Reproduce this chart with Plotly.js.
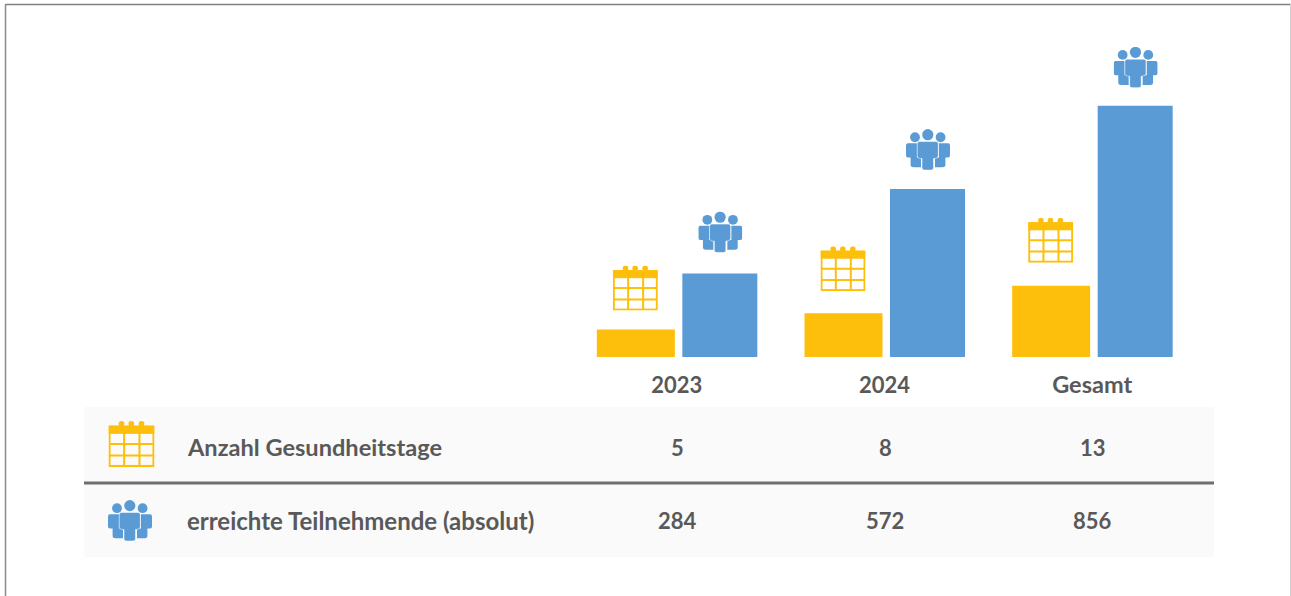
<!DOCTYPE html>
<html><head><meta charset="utf-8">
<script src="https://cdn.plot.ly/plotly-3.0.1.min.js"></script>
<style>html,body{margin:0;padding:0;background:#fff}#c{width:1291px;height:596px}</style>
</head><body><div id="c"></div>
<script>
const categories = ['2023', '2024', 'Gesamt'];
const gesundheitstage = [5, 8, 13];
const teilnehmende = [284, 572, 856];
const rowLabels = ['Anzahl Gesundheitstage', 'erreichte Teilnehmende (absolut)'];

const W = 1291, H = 596;
const M = {l: 573, r: 95, t: 5, b: 239};
const plotW = W - M.l - M.r, plotH = H - M.t - M.b;
const YMAX = 1199, Y2MAX = 64.2;
const YELLOW = '#FDBF0B', BLUE = '#5B9BD5', TEXT = '#595959', FONT = 'Lato, Carlito, sans-serif';
const px = x => (x - M.l) / plotW;
const py = y => 1 - (y - M.t) / plotH;
const dx = d => d * 3 / plotW;
const dy = d => d * YMAX / plotH;
const dy2 = d => d * Y2MAX / plotH;

const calendarSvg = `<svg xmlns="http://www.w3.org/2000/svg" width="135" height="135" viewBox="0 0 45 45"><g fill="${YELLOW}"><circle cx="12.7" cy="2.8" r="2.8"/><circle cx="22.3" cy="2.8" r="2.8"/><circle cx="32.3" cy="2.8" r="2.8"/><rect x="0" y="4.6" width="45" height="8"/></g><g fill="none" stroke="${YELLOW}" stroke-width="2"><rect x="1" y="5.5" width="43" height="38.5"/><path d="M15.3 12V44M30.3 12V44M1 22.5H44M1 33.8H44"/></g></svg>`;
const peopleSvg = `<svg xmlns="http://www.w3.org/2000/svg" width="132" height="123" viewBox="0 0 44 41"><g fill="${BLUE}"><circle cx="21.8" cy="5.6" r="5.6"/><circle cx="9" cy="8.2" r="4.9"/><circle cx="34.6" cy="8.2" r="4.9"/><path d="M2 14.2H11V28.5H15V38.2H7.5Q4.6 38.2 4.6 35.7V28.5H2Q0 28.5 0 26.5V16.2Q0 14.2 2 14.2Z"/><path d="M42 14.2H33V28.5H29V38.2H36.5Q39.4 38.2 39.4 35.7V28.5H42Q44 28.5 44 26.5V16.2Q44 14.2 42 14.2Z"/><path d="M13.5 12.5H30Q32.3 12.5 32.3 14.8V26.5Q32.3 29.5 28.3 29.5H27.5V38.5Q27.5 41 25 41H18.5Q16 41 16 38.5V29.5H15.3Q11.2 29.5 11.2 26.5V14.8Q11.2 12.5 13.5 12.5Z" stroke="#fff" stroke-width="0.5"/></g></svg>`;
const uri = s => 'data:image/svg+xml;base64,' + btoa(s);

const calGapPx = [19, 22, 23], peopleGapPx = [21, 19, 18];
const images = [];
categories.forEach((c, i) => {
  images.push({source: uri(calendarSvg), xref: 'x', yref: 'y2', x: i + dx(-41.5), y: gesundheitstage[i] + dy2(calGapPx[i]),
    sizex: dx(45), sizey: dy2(45), xanchor: 'center', yanchor: 'bottom', sizing: 'contain', layer: 'above'});
  images.push({source: uri(peopleSvg), xref: 'x', yref: 'y', x: i + dx(43.5), y: teilnehmende[i] + dy(peopleGapPx[i]),
    sizex: dx(44), sizey: dy(41), xanchor: 'center', yanchor: 'bottom', sizing: 'contain', layer: 'above'});
});
images.push({source: uri(calendarSvg), xref: 'paper', yref: 'paper', x: px(108.5), y: py(421), sizex: 46 / plotW, sizey: 46 / plotH, xanchor: 'left', yanchor: 'top', sizing: 'contain', layer: 'above'});
images.push({source: uri(peopleSvg), xref: 'paper', yref: 'paper', x: px(108), y: py(500), sizex: 44 / plotW, sizey: 41 / plotH, xanchor: 'left', yanchor: 'top', sizing: 'contain', layer: 'above'});

const rect = (x0, y0, x1, y1, color) => ({type: 'rect', xref: 'paper', yref: 'paper', x0: px(x0), x1: px(x1), y0: py(y0), y1: py(y1), fillcolor: color, line: {width: 0}, layer: 'below'});
const line = (x0, y0, x1, y1, color, w) => ({type: 'line', xref: 'paper', yref: 'paper', x0: px(x0), x1: px(x1), y0: py(y0), y1: py(y1), line: {color, width: w}, layer: 'below'});
const shapes = [
  rect(84, 407, 1214, 557, '#FAFAFA'),
  line(84, 483, 1214, 483, '#6E6E6E', 3),
  line(5.5, 4.5, 1291, 4.5, '#808080', 1.5),
  line(5.5, 4, 5.5, 596, '#8C8C8C', 1.5),
  line(1290.5, 4, 1290.5, 596, '#CFCFCF', 1)
];

const cell = (text, xref, x, y, anchor, size) => ({text, xref, yref: 'paper', x, y: py(y), xanchor: anchor, yanchor: 'middle', showarrow: false,
  font: {family: FONT, size, color: TEXT, weight: 700}});
const annotations = [cell(rowLabels[0], 'paper', px(184.5), 447, 'left', 23.6), cell(rowLabels[1], 'paper', px(185), 520, 'left', 24)];
categories.forEach((c, i) => {
  annotations.push(cell(String(gesundheitstage[i]), 'x', i + dx(0.7), 447, 'center', 22));
  annotations.push(cell(String(teilnehmende[i]), 'x', i + dx(0.5), 520.5, 'center', 22));
});

const tickLabels = categories.map(c => /\d/.test(c) ? c : `<span style="font-size:23.5px">${c}</span>`);
const traces = [
  {type: 'bar', name: rowLabels[0], x: [0, 1, 2], y: gesundheitstage, yaxis: 'y2', marker: {color: YELLOW}, offset: dx(-80), width: dx(78), hoverinfo: 'x+y'},
  {type: 'bar', name: rowLabels[1], x: [0, 1, 2], y: teilnehmende, marker: {color: BLUE}, offset: dx(5.5), width: dx(75), hoverinfo: 'x+y'}
];
const layout = {
  width: W, height: H, autosize: false, margin: M, showlegend: false, paper_bgcolor: '#fff', plot_bgcolor: 'rgba(0,0,0,0)',
  xaxis: {range: [-0.5, 2.5], tickmode: 'array', tickvals: [0, 1, 2], ticktext: tickLabels, showgrid: false, zeroline: false, showline: false, ticks: '', ticklabelstandoff: 13,
    tickfont: {family: FONT, size: 22, color: TEXT, weight: 700}},
  yaxis: {range: [0, YMAX], visible: false},
  yaxis2: {range: [0, Y2MAX], visible: false, overlaying: 'y', side: 'right'},
  images, shapes, annotations
};
Plotly.newPlot('c', traces, layout, {displayModeBar: false});
</script></body></html>
